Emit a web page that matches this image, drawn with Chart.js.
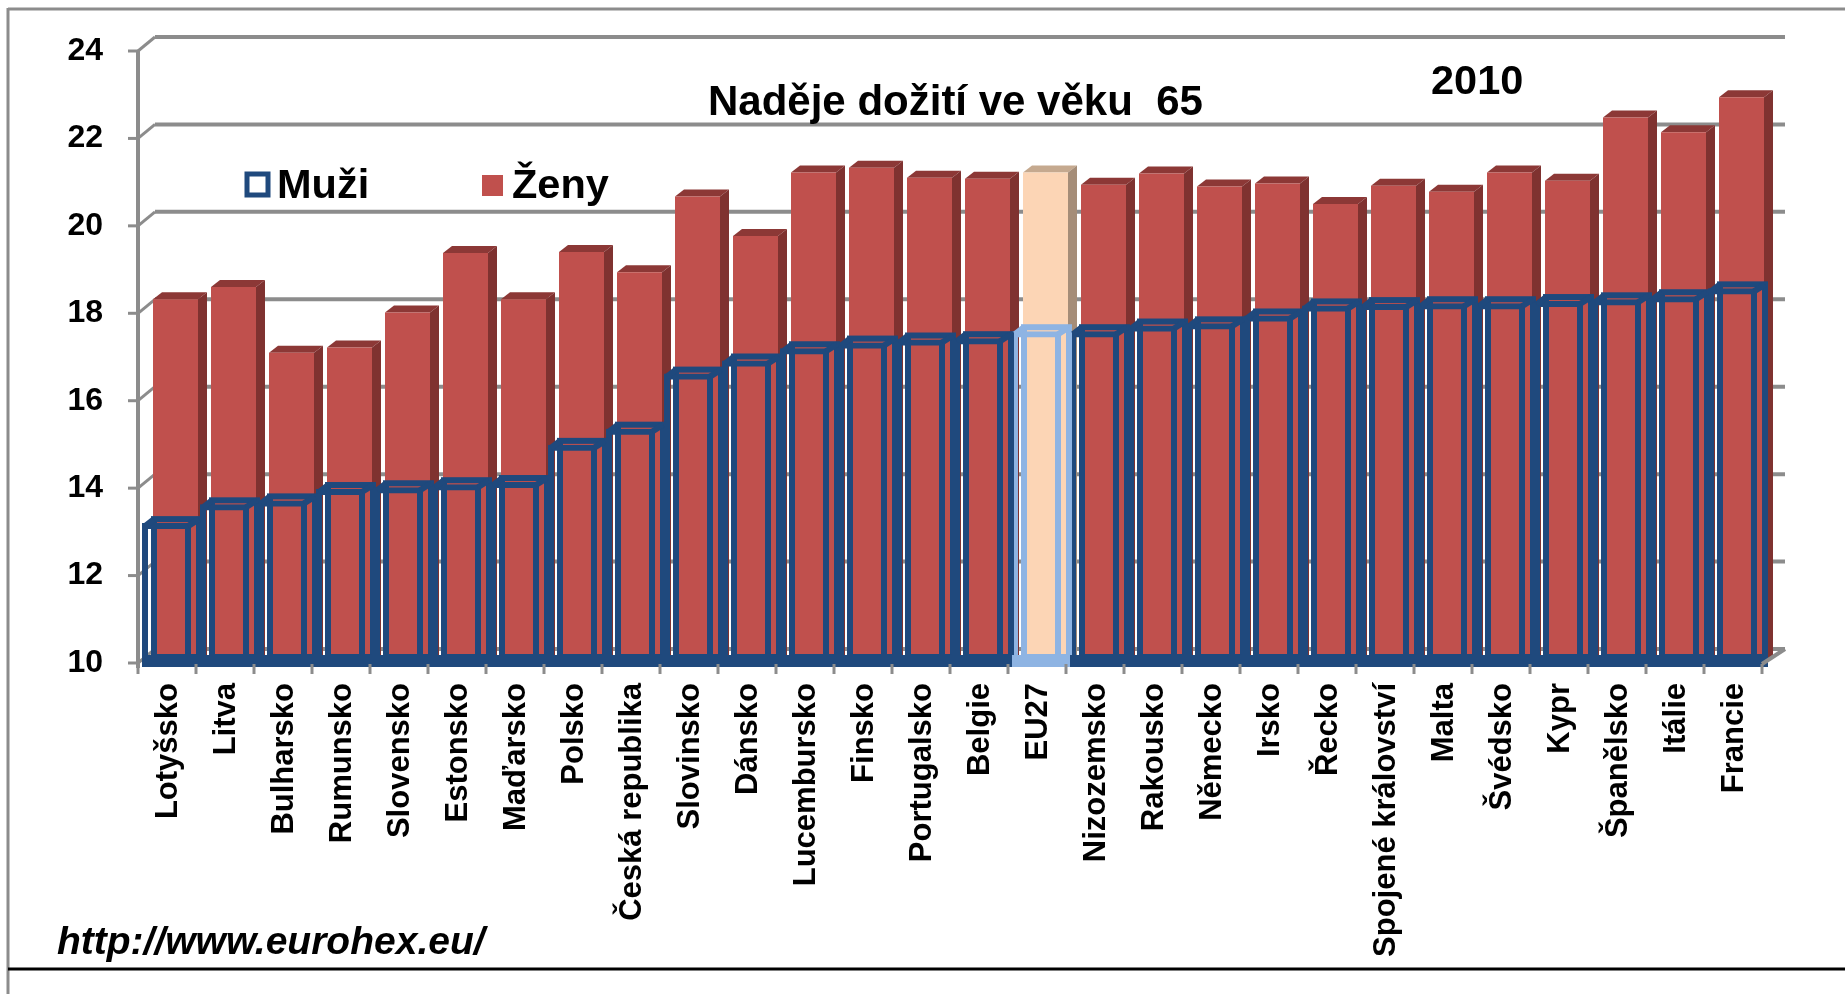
<!DOCTYPE html>
<html>
<head>
<meta charset="utf-8">
<title>Naděje dožití ve věku 65</title>
<script src="https://cdn.jsdelivr.net/npm/chart.js@4"></script>
<style>
  html, body { margin: 0; padding: 0; background: #fff; }
  canvas { display: block; }
</style>
</head>
<body>
<canvas id="dataChart" width="1845" height="994"></canvas>
<script>
const categories = ['Lotyšsko', 'Litva', 'Bulharsko', 'Rumunsko', 'Slovensko', 'Estonsko', 'Maďarsko', 'Polsko',
  'Česká republika', 'Slovinsko', 'Dánsko', 'Lucembursko', 'Finsko', 'Portugalsko', 'Belgie', 'EU27', 'Nizozemsko',
  'Rakousko', 'Německo', 'Irsko', 'Řecko', 'Spojené království', 'Malta', 'Švédsko', 'Kypr', 'Španělsko', 'Itálie', 'Francie'];
const muzi = [13.2, 13.63, 13.72, 13.98, 14.02, 14.09, 14.14, 14.99, 15.36, 16.62, 16.92, 17.2, 17.33, 17.4,
  17.43, 17.59, 17.59, 17.72, 17.77, 17.95, 18.18, 18.21, 18.23, 18.23, 18.28, 18.32, 18.39, 18.57];
const zeny = [18.32, 18.6, 17.1, 17.22, 18.02, 19.38, 18.32, 19.4, 18.94, 20.67, 19.77, 21.22, 21.33, 21.1,
  21.08, 21.22, 20.94, 21.2, 20.9, 20.97, 20.5, 20.92, 20.78, 21.22, 21.03, 22.48, 22.14, 22.94];
const highlight = 'EU27';
const chartTitle = 'Naděje dožití ve věku  65';
const yearLabel = '2010';
const sourceLabel = 'http://www.eurohex.eu/';
const baseValue = 10;

const GRAY = '#8c8c8c';
const BLUE = '#1f497d';
const LIGHT_BLUE = '#8eb4e3';
const RED = '#c0504d';
const FONT = '"Liberation Sans", Arial, sans-serif';

// depth of the fake 3d boxes
const DX = 9, DY = 7;
// back wall offset from the front axis
const WALL_X = 17, WALL_Y = 14;
// the bars sit a little right of the drawn axis
const AXIS_SHIFT = 4;

function poly(ctx, pts, color) {
  ctx.fillStyle = color;
  ctx.beginPath();
  pts.forEach((p, i) => i ? ctx.lineTo(p[0], p[1]) : ctx.moveTo(p[0], p[1]));
  ctx.closePath();
  ctx.fill();
}

function line(ctx, x0, y0, x1, y1, color, width) {
  ctx.strokeStyle = color;
  ctx.lineWidth = width;
  ctx.beginPath();
  ctx.moveTo(x0, y0);
  ctx.lineTo(x1, y1);
  ctx.stroke();
}

const box3d = {
  id: 'box3d',
  beforeDraw(chart) {
    const ctx = chart.ctx;
    ctx.fillStyle = '#fff';
    ctx.fillRect(0, 0, chart.width, chart.height);
    // page frame
    line(ctx, 8, 9, 1845, 9, GRAY, 3);
    line(ctx, 8, 8, 8, 994, GRAY, 3);
    line(ctx, 8, 969, 1845, 969, '#000', 3);
  },
  beforeDatasetsDraw(chart) {
    const ctx = chart.ctx, y = chart.scales.y, x = chart.scales.x;
    const step = x.getPixelForValue(1) - x.getPixelForValue(0);
    const left = x.getPixelForValue(0) - step / 2 - AXIS_SHIFT;
    const right = left + step * categories.length;
    y.ticks.forEach(t => {
      const py = y.getPixelForValue(t.value);
      line(ctx, left + WALL_X, py - WALL_Y, right + WALL_X + 6, py - WALL_Y, GRAY, 4);
      line(ctx, left - 10, py, left, py, GRAY, 3);
      line(ctx, left, py, left + WALL_X, py - WALL_Y, GRAY, 3);
    });
    line(ctx, left, y.getPixelForValue(24) - 1, left, y.getPixelForValue(baseValue) + 5, GRAY, 4);
  },
  beforeDatasetDraw(chart, args) {
    if (args.index !== 1) return;
    const ctx = chart.ctx, base = chart.scales.y.getPixelForValue(baseValue);
    args.meta.data.forEach((bar, i) => {
      const isEu = categories[i] === highlight;
      const x0 = bar.x - bar.width / 2, x1 = bar.x + bar.width / 2;
      poly(ctx, [[x0, bar.y], [x0 + DX, bar.y - DY], [x1 + DX, bar.y - DY], [x1, bar.y]], isEu ? '#c5a98f' : '#8c3836');
      poly(ctx, [[x1, bar.y], [x1 + DX, bar.y - DY], [x1 + DX, base - DY], [x1, base]], isEu ? '#a58d78' : '#7f3230');
    });
  },
  afterDatasetDraw(chart, args) {
    if (args.index !== 0) return;
    const ctx = chart.ctx, base = chart.scales.y.getPixelForValue(baseValue);
    const lw = 6;
    args.meta.data.forEach((bar, i) => {
      const color = categories[i] === highlight ? LIGHT_BLUE : BLUE;
      const x0 = bar.x - bar.width / 2 + lw / 2, x1 = bar.x + bar.width / 2 - lw / 2;
      const top = bar.y + lw / 2, bottom = base + 1;
      ctx.strokeStyle = color;
      ctx.lineWidth = lw;
      ctx.strokeRect(x0 + DX, top - DY, x1 - x0 + 2, bottom - top);
      line(ctx, x0, top, x0 + DX, top - DY, color, lw);
      line(ctx, x1, top, x1 + DX + 2, top - DY, color, lw);
      line(ctx, x1, bottom, x1 + DX + 2, bottom - DY, color, lw);
      // floor band closes the gap between front and back frame
      ctx.fillStyle = color;
      ctx.fillRect(x0 - lw / 2, base - 8, x1 - x0 + lw + DX + 2, 12);
    });
  },
  afterDatasetsDraw(chart) {
    const ctx = chart.ctx, x = chart.scales.x, y = chart.scales.y;
    const step = x.getPixelForValue(1) - x.getPixelForValue(0);
    const base = y.getPixelForValue(baseValue);
    const left = x.getPixelForValue(0) - step / 2 - AXIS_SHIFT;
    for (let i = 0; i <= categories.length; i++) {
      line(ctx, left + i * step, base + 1, left + i * step, base + 11, GRAY, 3);
    }
    const end = left + categories.length * step;
    line(ctx, end, base + 1, end + WALL_X + 6, base - WALL_Y, GRAY, 4);
  },
  afterDraw(chart) {
    const ctx = chart.ctx;
    ctx.fillStyle = '#000';
    ctx.textAlign = 'left';
    ctx.textBaseline = 'alphabetic';
    ctx.font = 'bold 42px ' + FONT;
    ctx.fillText(chartTitle, 708, 115);
    ctx.font = 'bold 41.5px ' + FONT;
    ctx.fillText(yearLabel, 1431, 94);
    ctx.font = 'italic bold 39px ' + FONT;
    ctx.fillText(sourceLabel, 57, 954);

    // legend
    ctx.font = 'bold 41.5px ' + FONT;
    ctx.fillText(chart.data.datasets[0].label, 277, 198);
    ctx.fillText(chart.data.datasets[1].label, 512, 198);
    ctx.strokeStyle = BLUE;
    ctx.lineWidth = 5;
    ctx.strokeRect(247, 174, 21, 21);
    ctx.fillStyle = RED;
    ctx.fillRect(482, 175, 21, 21);
  }
};

const ctx = document.getElementById('dataChart').getContext('2d');
new Chart(ctx, {
  type: 'bar',
  plugins: [box3d],
  data: {
    labels: categories,
    datasets: [
      {
        label: 'Muži',
        data: muzi,
        base: baseValue,
        backgroundColor: 'rgba(0,0,0,0)',
        borderColor: categories.map(c => c === highlight ? LIGHT_BLUE : BLUE),
        borderWidth: 6,
        borderSkipped: false,
        categoryPercentage: 18 / 58,
        barPercentage: 49 / 9
      },
      {
        label: 'Ženy',
        data: zeny,
        base: baseValue,
        backgroundColor: categories.map(c => c === highlight ? '#fcd5b5' : RED),
        borderWidth: 0,
        categoryPercentage: 18 / 58,
        barPercentage: 45 / 9
      }
    ]
  },
  options: {
    responsive: false,
    animation: false,
    layout: { padding: { top: 51, right: 1845 - (142 + 58 * 28), left: 0, bottom: 0 } },
    plugins: { legend: { display: false }, title: { display: false }, tooltip: { enabled: false } },
    scales: {
      x: {
        grid: { display: false },
        border: { display: false },
        ticks: {
          autoSkip: false,
          minRotation: 90,
          maxRotation: 90,
          padding: 12,
          labelOffset: -3,
          color: '#000',
          font: { family: FONT, size: 31, weight: 'bold' }
        },
        afterFit(scale) { scale.height = 994 - 663; }
      },
      y: {
        min: baseValue,
        max: 24,
        grid: { display: false },
        border: { display: false },
        ticks: {
          stepSize: 2,
          padding: 31,
          color: '#000',
          font: { family: FONT, size: 32, weight: 'bold' }
        },
        afterFit(scale) { scale.width = 142; }
      }
    }
  }
});
</script>
</body>
</html>
